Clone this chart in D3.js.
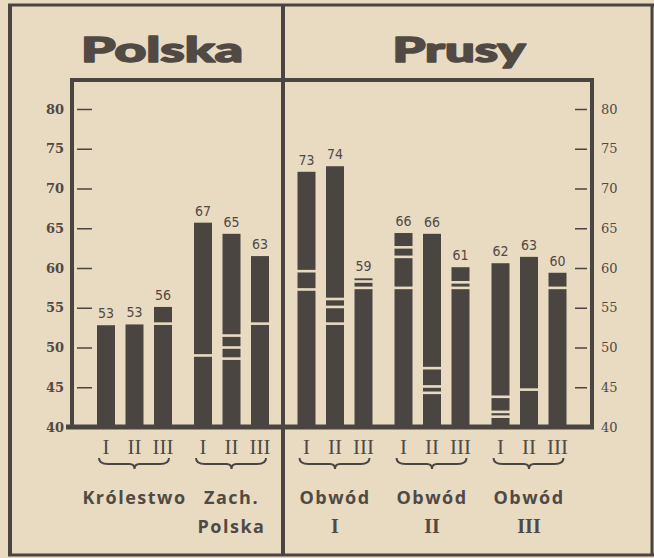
<!DOCTYPE html>
<html>
<head>
<meta charset="utf-8">
<script src="https://cdn.jsdelivr.net/npm/d3@7"></script>
<style>
  body { margin: 0; background: #e8dbc2; }
  svg  { display: block; }
</style>
</head>
<body>
<script>
// dane
var tytuly      = ["Polska", "Prusy"];
var grupy       = [["Królestwo"], ["Zach.", "Polska"], ["Obwód", "I"], ["Obwód", "II"], ["Obwód", "III"]];
var okresy      = ["I", "II", "III"];
var wartosci    = [53, 53, 56,   67, 65, 63,   73, 74, 59,   66, 66, 61,   62, 63, 60];
var wysokosci   = [52.8, 52.9, 55.1,   65.7, 64.3, 61.5,   72.1, 72.8, 58.7,   64.4, 64.3, 60.1,   60.6, 61.4, 59.4];
var przerwy     = [[], [], [53],   [49], [51.5, 50, 48.6], [53],   [59.6, 57.3], [56.1, 55.1, 53], [58.3, 57.5],
                   [62.6, 61.4, 57.5], [47.4, 45.1, 44.3], [58.2, 57.5],   [43.8, 41.9, 41.3], [44.7], [57.5]];
var ticksY      = [40, 45, 50, 55, 60, 65, 70, 75, 80];

var svgW = 654;
var svgH = 558;

var kolorPapier = "#e8dbc2";
var kolorTusz   = "#4b4542";
var kolorTekst  = "#514943";

var osLewaX  = 72;
var osPrawaX = 592;
var ramkaY   = 80;
var bazaY    = 427;
var podzialX = 283;

var szerSlupka = 18;

function rysujWykres(){
    var svg =      d3.select("body")
                     .append("svg")
                     .attr("width", svgW)
                     .attr("height", svgH)
                     ;

                svg.append("rect")
                     .attr("width", svgW)
                     .attr("height", svgH)
                     .attr("fill", kolorPapier)
                     ;

    var yScale =   d3.scaleLinear()
                     .domain([40, 80])
                     .range ([bazaY, 109])
                     ;

    // grupy Polski i Prus maja osobne skale (przedzielone linia)
    var xPolska =  d3.scaleBand()
                     .domain([0, 1])
                     .range ([86, 280])
                     ;
    var xPrusy =   d3.scaleBand()
                     .domain([2, 3, 4])
                     .range ([286.5, 577.5])
                     ;
    var xOkres =   d3.scalePoint()
                     .domain(okresy)
                     .range ([-28.5, 28.5])
                     ;

    function srodekGrupy(g){
        var s = g < 2 ? xPolska : xPrusy;
        return s(g) + s.bandwidth() / 2;
    }

    var slupki = wartosci.map(function(v, i){
        return { grupa: Math.floor(i / 3), okres: okresy[i % 3], wartosc: v, wysokosc: wysokosci[i], przerwy: przerwy[i] };
    });

    // osie
    var yAxisL =   d3.axisLeft()
                     .scale(yScale)
                     .tickValues(ticksY)
                     .tickSizeInner(15)
                     .tickSizeOuter(0)
                     .tickPadding(13)
                     ;
    var yAxisR =   d3.axisRight()
                     .scale(yScale)
                     .tickValues(ticksY)
                     .tickSizeInner(12)
                     .tickSizeOuter(0)
                     .tickPadding(14)
                     ;

    var gL =       svg.append("g")
                     .attr("transform", "translate(92,0)")
                     .call(yAxisL)
                     ;
    var gR =       svg.append("g")
                     .attr("transform", "translate(575,0)")
                     .call(yAxisR)
                     ;

    [gL, gR].forEach(function(g, i){
        g.select(".domain").remove();
        g.selectAll("line").attr("stroke", kolorTusz).attr("stroke-width", 1.5);
        g.selectAll("text")
         .attr("fill", kolorTekst)
         .attr("font-family", "'DejaVu Serif', serif")
         .attr("font-size", 13)
         .attr("font-weight", i == 0 ? "bold" : "normal");
    });

    // slupki
    var bar =      svg.selectAll("g.slupek")
                     .data(slupki)
                     .enter()
                     .append("g")
                     .attr("class", "slupek")
                     .attr("transform", function(d) { return "translate(" + (srodekGrupy(d.grupa) + xOkres(d.okres)) + ",0)"; })
                     ;

                bar.append("rect")
                     .attr("x", -szerSlupka / 2)
                     .attr("y", function(d) { return yScale(d.wysokosc); })
                     .attr("width", szerSlupka)
                     .attr("height", function(d) { return bazaY - yScale(d.wysokosc); })
                     .attr("fill", kolorTusz)
                     ;

                bar.selectAll("rect.przerwa")
                     .data(function(d) { return d.przerwy; })
                     .enter()
                     .append("rect")
                     .attr("class", "przerwa")
                     .attr("x", -szerSlupka / 2 - 1)
                     .attr("y", function(d) { return yScale(d) - 1.3; })
                     .attr("width", szerSlupka + 2)
                     .attr("height", 2.6)
                     .attr("fill", kolorPapier)
                     ;

                bar.append("text")
                     .attr("y", function(d) { return yScale(d.wysokosc) - 7; })
                     .attr("text-anchor", "middle")
                     .attr("font-family", "'DejaVu Sans Condensed', 'DejaVu Sans', sans-serif")
                     .attr("font-size", 14)
                     .attr("fill", kolorTekst)
                     .text(function(d) { return d.wartosc; })
                     ;

                bar.append("text")
                     .attr("y", 454)
                     .attr("text-anchor", "middle")
                     .attr("font-family", "'Liberation Serif', serif")
                     .attr("font-size", 21)
                     .attr("fill", kolorTekst)
                     .text(function(d) { return d.okres; })
                     ;

    // klamry i podpisy grup
    var grupa =    svg.selectAll("g.grupa")
                     .data(grupy)
                     .enter()
                     .append("g")
                     .attr("class", "grupa")
                     .attr("transform", function(d, i) { return "translate(" + srodekGrupy(i) + ",0)"; })
                     ;

                grupa.append("path")
                     .attr("d", function() {
                         var a = xOkres("I") - 7, b = xOkres("III") + 6;
                         return "M" + a + ",458 Q" + a + ",464 " + (a + 9) + ",464 L-5,464 Q0,464 0,469 Q0,464 5,464 L" +
                                (b - 9) + ",464 Q" + b + ",464 " + b + ",458";
                       })
                     .attr("fill", "none")
                     .attr("stroke", kolorTusz)
                     .attr("stroke-width", 2)
                     ;

                grupa.append("text")
                     .attr("y", 504)
                     .attr("text-anchor", "middle")
                     .attr("font-family", "'Open Sans', sans-serif")
                     .attr("font-weight", 700)
                     .attr("font-size", 18)
                     .attr("letter-spacing", 1.5)
                     .attr("fill", kolorTekst)
                     .text(function(d) { return d[0]; })
                     ;

                grupa.append("text")
                     .attr("y", 533)
                     .attr("text-anchor", "middle")
                     .attr("font-family", function(d, i) { return i == 1 ? "'Open Sans', sans-serif" : "'Liberation Serif', serif"; })
                     .attr("font-weight", function(d, i) { return i == 1 ? 700 : "bold"; })
                     .attr("font-size", function(d, i) { return i == 1 ? 18 : 20; })
                     .attr("letter-spacing", function(d, i) { return i == 1 ? 1.5 : 0; })
                     .attr("fill", kolorTekst)
                     .text(function(d) { return d.length > 1 ? d[1] : ""; })
                     ;

    // ramki
    var linie = [
        [8, 5, 654, 5, 3], [10, 5, 10, 556, 4], [652, 5, 652, 556, 3], [8, 555, 654, 555, 3],
        [podzialX, 5, podzialX, 556, 4], [osLewaX - 2, ramkaY, osPrawaX + 2, ramkaY, 4],
        [osLewaX, ramkaY, osLewaX, bazaY, 4], [osPrawaX, ramkaY, osPrawaX, bazaY, 4],
        [66, bazaY, osPrawaX + 2, bazaY, 5]
    ];
                svg.selectAll("line.ramka")
                     .data(linie)
                     .enter()
                     .append("line")
                     .attr("class", "ramka")
                     .attr("x1", function(d) { return d[0]; })
                     .attr("y1", function(d) { return d[1]; })
                     .attr("x2", function(d) { return d[2]; })
                     .attr("y2", function(d) { return d[3]; })
                     .attr("stroke-width", function(d) { return d[4]; })
                     .attr("stroke", kolorTusz)
                     ;

    // tytuly
                svg.selectAll("text.tytul")
                     .data(tytuly)
                     .enter()
                     .append("text")
                     .attr("class", "tytul")
                     .attr("x", function(d, i) { return i == 0 ? 162 : 459; })
                     .attr("y", 62)
                     .attr("text-anchor", "middle")
                     .attr("textLength", function(d, i) { return i == 0 ? 162 : 133; })
                     .attr("lengthAdjust", "spacingAndGlyphs")
                     .attr("font-family", "Lato, 'DejaVu Sans', sans-serif")
                     .attr("font-weight", 900)
                     .attr("font-size", 35)
                     .attr("fill", kolorTekst)
                     .attr("stroke", kolorTekst)
                     .attr("stroke-width", 1.6)
                     .attr("stroke-linejoin", "round")
                     .text(function(d) { return d; })
                     ;
}

rysujWykres();
</script>
</body>
</html>
